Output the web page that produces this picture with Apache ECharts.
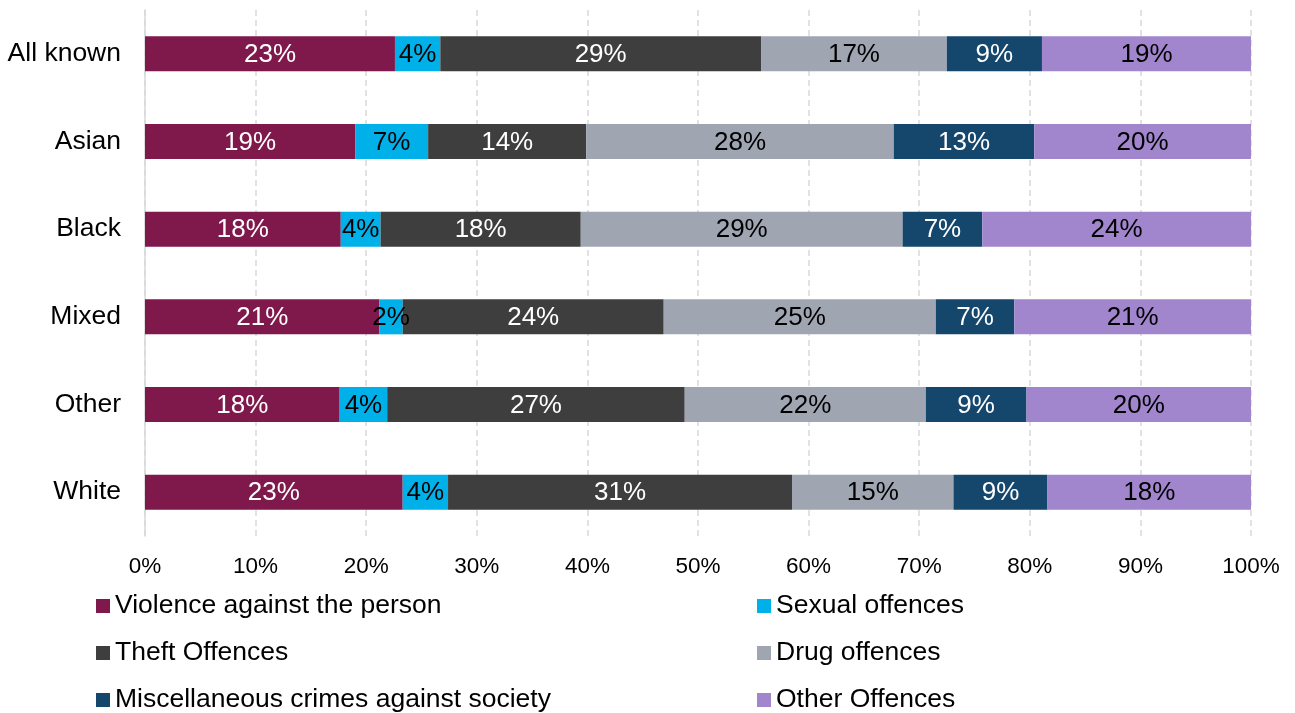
<!DOCTYPE html>
<html>
<head>
<meta charset="utf-8">
<script src="https://cdn.jsdelivr.net/npm/echarts@6/dist/echarts.min.js"></script>
<style>
  html, body { margin: 0; padding: 0; background: #fff; }
  #chart { width: 1295px; height: 713px; }
</style>
</head>
<body>
<div id="chart"></div>
<script>
// Ethnic groups (rows, top to bottom)
const groups = ['All known', 'Asian', 'Black', 'Mixed', 'Other', 'White'];

// Share of offences by type, percent of each group
const violence = [22.6, 19.0, 17.7, 21.2, 17.6, 23.3];
const sexual   = [4.1, 6.6, 3.6, 2.1, 4.3, 4.1];
const theft    = [29.0, 14.3, 18.1, 23.6, 26.9, 31.1];
const drug     = [16.8, 27.8, 29.1, 24.6, 21.8, 14.6];
const misc     = [8.6, 12.7, 7.2, 7.1, 9.1, 8.5];
const other    = [18.9, 19.6, 24.3, 21.4, 20.3, 18.4];

const seriesNames = [
  'Violence against the person', 'Sexual offences',
  'Theft Offences', 'Drug offences',
  'Miscellaneous crimes against society', 'Other Offences'
];
const seriesData = [violence, sexual, theft, drug, misc, other];
const colors = ['#7F194C', '#00B0E8', '#3E3E3E', '#A0A5B2', '#15466C', '#A186CD'];
const labelColors = ['#ffffff', '#000000', '#ffffff', '#000000', '#ffffff', '#000000'];

const FONT = '"Liberation Sans", Arial, sans-serif';

const chart = echarts.init(document.getElementById('chart'), null, { renderer: 'canvas' });

const series = seriesNames.map((name, i) => ({
  name: name,
  type: 'bar',
  stack: 'total',
  data: seriesData[i],
  barWidth: 35,
  itemStyle: { color: colors[i] },
  label: {
    show: true,
    position: 'inside',
    color: labelColors[i],
    fontFamily: FONT,
    fontSize: 26,
    offset: [0, 1],
    formatter: p => Math.round(p.value) + '%'
  },
  emphasis: { disabled: true }
}));

const legendCommon = {
  orient: 'vertical',
  icon: 'rect',
  itemWidth: 14,
  itemHeight: 14,
  itemGap: 17,
  height: 160,
  textStyle: { fontFamily: FONT, fontSize: 26.5, color: '#000', lineHeight: 30 },
  selectedMode: false
};

chart.setOption({
  animation: false,
  backgroundColor: '#ffffff',
  textStyle: { fontFamily: FONT },
  grid: { left: 145, right: 44, top: 10, bottom: 177, containLabel: false },
  xAxis: {
    type: 'value',
    min: 0,
    max: 100,
    interval: 10,
    axisLine: { show: false },
    axisTick: { show: false },
    axisLabel: {
      fontFamily: FONT, fontSize: 22.5, color: '#000', margin: 19,
      formatter: v => v + '%'
    },
    splitLine: {
      show: true,
      lineStyle: { color: '#D9D9D9', width: 1.5, type: [6, 4] }
    }
  },
  yAxis: {
    type: 'category',
    data: groups,
    inverse: true,
    axisLine: { show: true, lineStyle: { color: '#D9D9D9', width: 1.5 } },
    axisTick: { show: false },
    axisLabel: { fontFamily: FONT, fontSize: 26.5, color: '#000', margin: 24 }
  },
  legend: [
    Object.assign({ left: 91, top: 586, data: [seriesNames[0], seriesNames[2], seriesNames[4]] }, legendCommon),
    Object.assign({ left: 752, top: 586, data: [seriesNames[1], seriesNames[3], seriesNames[5]] }, legendCommon)
  ],
  series: series
});
</script>
</body>
</html>
